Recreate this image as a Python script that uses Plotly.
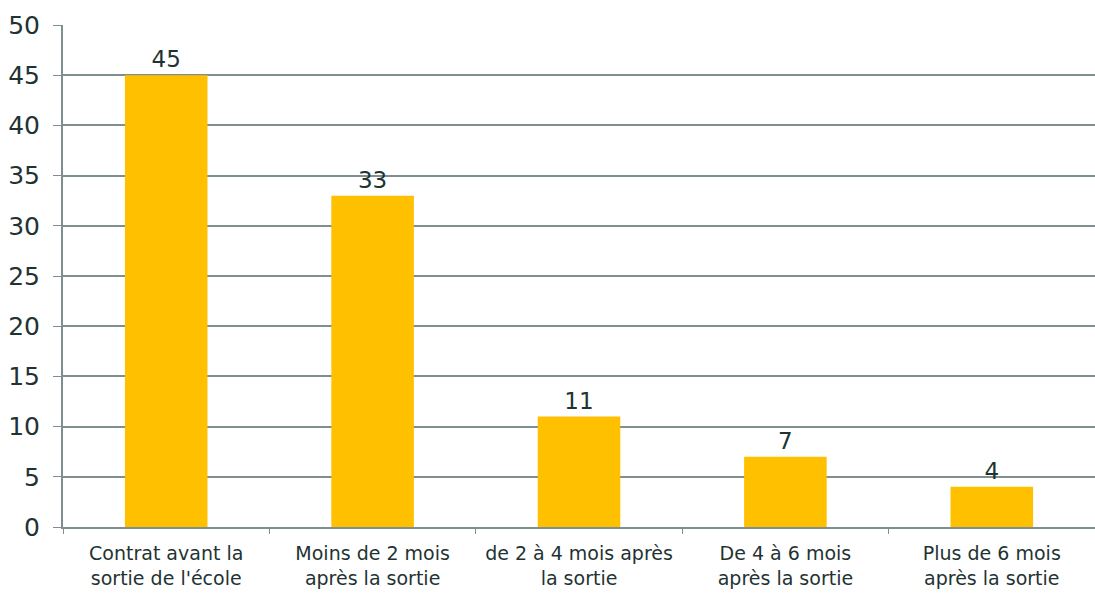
import plotly.graph_objects as go

categories = ["Contrat avant la<br>sortie de l'école", "Moins de 2 mois<br>après la sortie",
              "de 2 à 4 mois après<br>la sortie", "De 4 à 6 mois<br>après la sortie",
              "Plus de 6 mois<br>après la sortie"]
values = [45, 33, 11, 7, 4]
y_ticks = [0, 5, 10, 15, 20, 25, 30, 35, 40, 45, 50]

text_color = "#1F3333"
grid_color = "#7F8F8F"

fig = go.Figure(go.Bar(
    x=categories, y=values,
    marker=dict(color="#FFC000", line=dict(width=0)),
    text=[str(v) for v in values], textposition="outside",
    textfont=dict(size=23, color=text_color, family="DejaVu Sans"),
    cliponaxis=False,
))
fig.update_layout(
    width=1095, height=598,
    margin=dict(l=63, r=0, t=25, b=71),
    paper_bgcolor="white", plot_bgcolor="white",
    bargap=0.6, showlegend=False,
    font=dict(family="DejaVu Sans", color=text_color),
)
fig.update_xaxes(
    automargin=False, tickangle=0,
    showline=True, linecolor=grid_color, linewidth=2,
    ticks="outside", tickson="boundaries", ticklen=5, tickcolor=grid_color,
    tickfont=dict(size=19, family="DejaVu Sans", color=text_color),
    ticklabelstandoff=8,
    showgrid=False,
)
fig.update_yaxes(
    automargin=False,
    range=[0, 50], tickvals=y_ticks, showgrid=True, gridcolor=grid_color, gridwidth=1.5,
    showline=True, linecolor=grid_color, linewidth=2,
    ticks="outside", ticklen=8, tickcolor=grid_color,
    tickfont=dict(size=25, family="DejaVu Sans", color=text_color),
    ticklabelstandoff=8,
    zeroline=False,
)
fig.write_html("out.html", config={"displayModeBar": False},
               post_script="document.body.style.margin='0';document.body.style.overflow='hidden';")
